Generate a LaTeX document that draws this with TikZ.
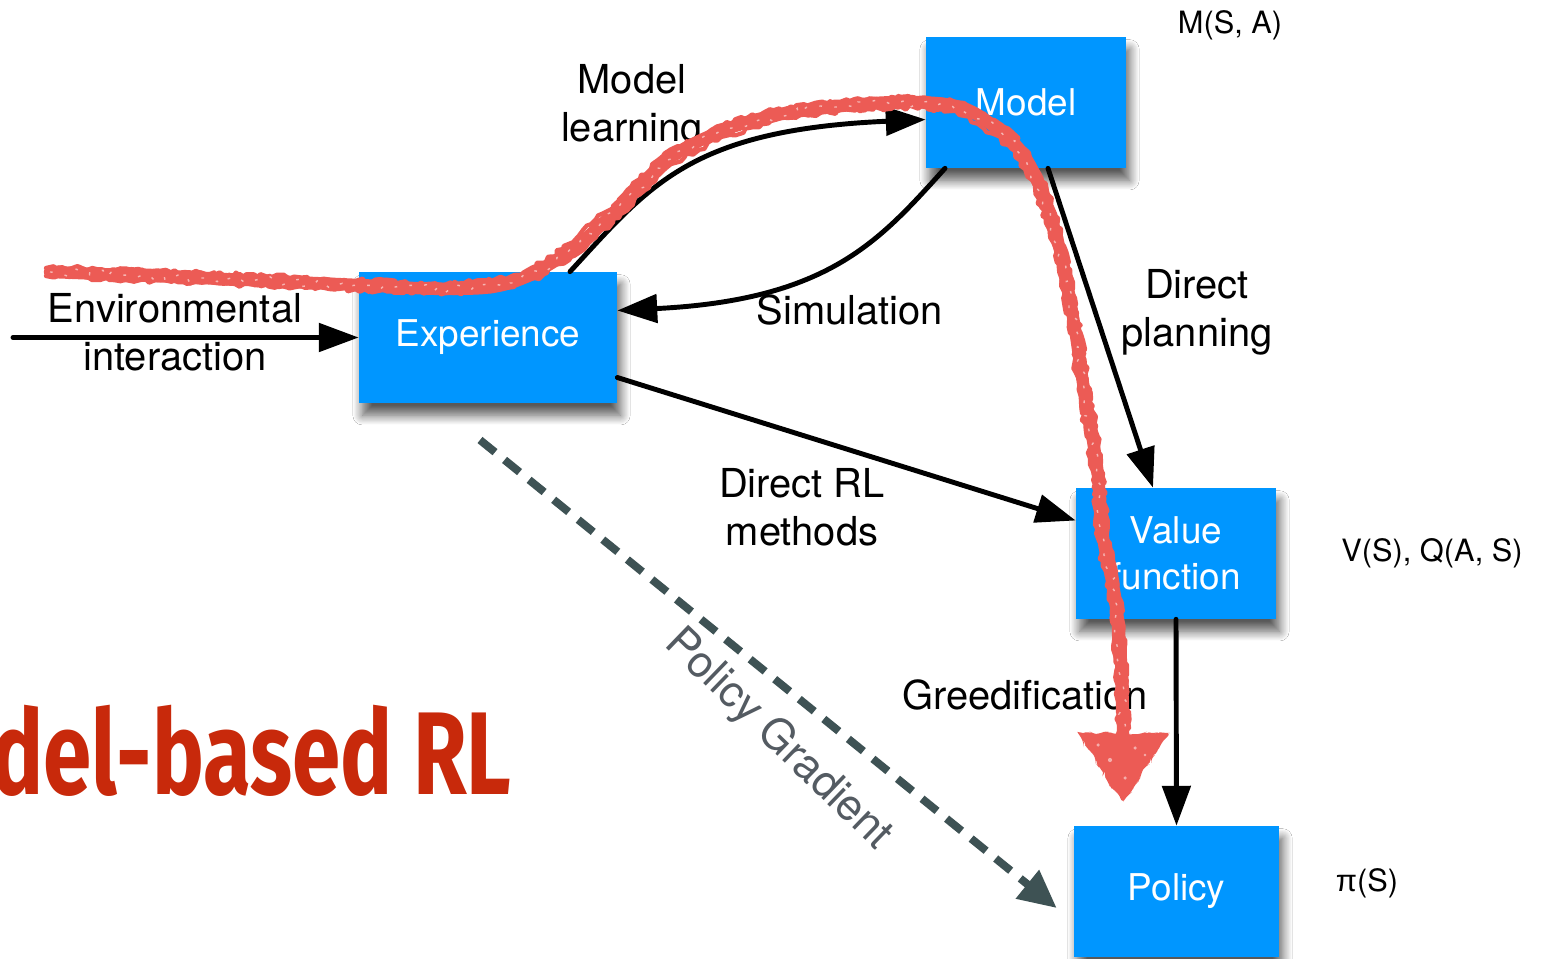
\documentclass[tikz,border=0pt]{standalone}
\usepackage{fontspec}
\setmainfont{TeX Gyre Heros}
\newfontfamily\titlefont{Fira Sans}
\newfontfamily\libsans{Liberation Sans}
\usetikzlibrary{arrows.meta,calc,shadows.blur,decorations.pathmorphing}
\definecolor{boxblue}{HTML}{0096FF}
\definecolor{dashgray}{HTML}{3E5254}
\definecolor{pgtext}{HTML}{545B62}
\definecolor{scribble}{HTML}{EC5B55}
\definecolor{titlered}{HTML}{C8290B}
\begin{document}
\begin{tikzpicture}[x=0.02cm,y=-0.02cm,
  bluebox/.style={fill=boxblue, draw=none, text=white, font=\fontsize{21}{26}\selectfont, align=center, minimum height=2.62cm, inner sep=0pt,
    blur shadow={shadow xshift=2pt, shadow yshift=-7pt, shadow blur radius=5.5pt, shadow blur steps=12, shadow opacity=65}},
  lbl/.style={font=\fontsize{22.7}{27.5}\selectfont, align=center, inner sep=0pt},
  smalllbl/.style={font=\fontsize{17.5}{21}\selectfont, inner sep=0pt},
  arr/.style={line width=2.8pt, line cap=round, -{Triangle[length=22.7pt,width=16pt]}},
  redline/.style={scribble, line cap=round, line join=round},
  rough/.style={redline, decorate, decoration={random steps, segment length=3pt, amplitude=1.6pt}},
]
\pgfmathsetseed{7}
\useasboundingbox (0,0) rectangle (1542,959);
\fill[white] (0,0) rectangle (1542,959);

% title (partly outside the frame, as in the reference)
\node[anchor=base east, inner sep=0pt, text=titlered, font=\titlefont\bfseries\fontsize{67}{70}\selectfont] (title) at (512,794) {\scalebox{0.74}[1]{Model-based RL}};

\coordinate (pgstart) at (480,440);

% boxes
\node[bluebox, minimum width=4cm] (model) at (1026,102.5) {Model};
\node[bluebox, minimum width=5.16cm] (exp) at (488,337.5) {Experience};
\node[bluebox, minimum width=4cm] (val) at (1176,553.5) {Value\\function};
\node[bluebox, minimum width=4.1cm] (pol) at (1176.5,891.5) {Policy};

\draw[dashgray, line width=4.5pt, dash pattern=on 11pt off 7pt, -{Triangle[length=21.5pt,width=20pt]}] (pgstart) -- ($(pol.west)+(-17,16.5)$);

% labels
\node[lbl] (lml) at (632,107) {Model\\learning};
\node[lbl] (lenv) at (175,332) {Environmental\\interaction};
\node[lbl] (lsim) at (850,310) {Simulation};
\node[lbl] (ldp) at (1197,312) {Direct\\planning};
\node[lbl] (ldrl) at (802,507) {Direct RL\\methods};
\node[lbl] (lgr) at (1025,695) {Greedification};
\node[smalllbl] (lm) at (1230,25) {M(S, A)};
\node[smalllbl] (lv) at (1432,553) {V(S), Q(A, S)};
\node[smalllbl] (lp) at (1367,883) {{\libsans π}(S)};
\node[font=\fontsize{25}{29}\selectfont, text=pgtext, rotate=-44, inner sep=0pt] (lpg) at (778,740) {Policy Gradient};

% connectors
\coordinate (envstart) at (13,337.5);
\draw[arr] (envstart) -- (exp.west);
\draw[arr] ($(exp.north)+(82,0)$) .. controls (650,185) and (690,130) .. ($(model.west)+(0,17)$);
\draw[arr] ($(model.south)+(-81,0)$) .. controls (880,240) and (830,300) .. ($(exp.east)+(0,-27)$);
\draw[arr] ($(model.south)+(22,0)$) -- ($(val.north)+(-23,0)$);
\draw[arr] ($(exp.east)+(0,40)$) -- ($(val.west)+(0,-33)$);
\draw[arr] (val.south) -- (pol.north);

% red scribble
\def\rp{(50,272) -- (200,278) -- (360,285) -- (450,289) -- (510,283) -- (540,270) -- (567,253) -- (617,210) -- (667,160) -- (717,133) -- (767,117) -- (833,107) -- (900,102) -- (960,107) -- (1000,131) -- (1025,157) -- (1043,195) -- (1060,250) -- (1073,317) -- (1083,383) -- (1097,467) -- (1103,537) -- (1116,603) -- (1122,680) -- (1123,738)}
\draw[redline, line width=7pt] plot[smooth, tension=0.6] coordinates {(50,272) (200,278) (360,285) (450,289) (510,283) (567,253) (617,210) (667,160) (717,133) (767,117) (833,107) (900,102) (960,107) (1000,131) (1025,157) (1043,195) (1060,250) (1073,317) (1083,383) (1097,467) (1103,537) (1116,603) (1122,680) (1123,738)};
\draw[rough, line width=2.4pt, xshift=2.3pt, yshift=2.3pt] \rp;
\draw[rough, line width=2.4pt, xshift=-2.3pt, yshift=-2.3pt] \rp;
\draw[rough, line width=2.4pt, xshift=2.3pt, yshift=-2.3pt] \rp;
\draw[rough, line width=2.4pt, xshift=-2.3pt, yshift=2.3pt] \rp;
\draw[white, opacity=0.55, line width=0.8pt, dash pattern=on 1.5pt off 7pt, decorate, decoration={random steps, segment length=4pt, amplitude=2.5pt}] \rp;
\fill[scribble, rounded corners=3pt, decorate, decoration={random steps, segment length=3pt, amplitude=1.2pt}] (1078,733) -- (1170,733) -- (1123,802) -- cycle;
\fill[white, opacity=0.5] (1110,760) circle (1.2pt) (1135,748) circle (1pt) (1098,745) circle (1pt) (1125,778) circle (1pt) (1145,755) circle (0.8pt);
\end{tikzpicture}
\end{document}
